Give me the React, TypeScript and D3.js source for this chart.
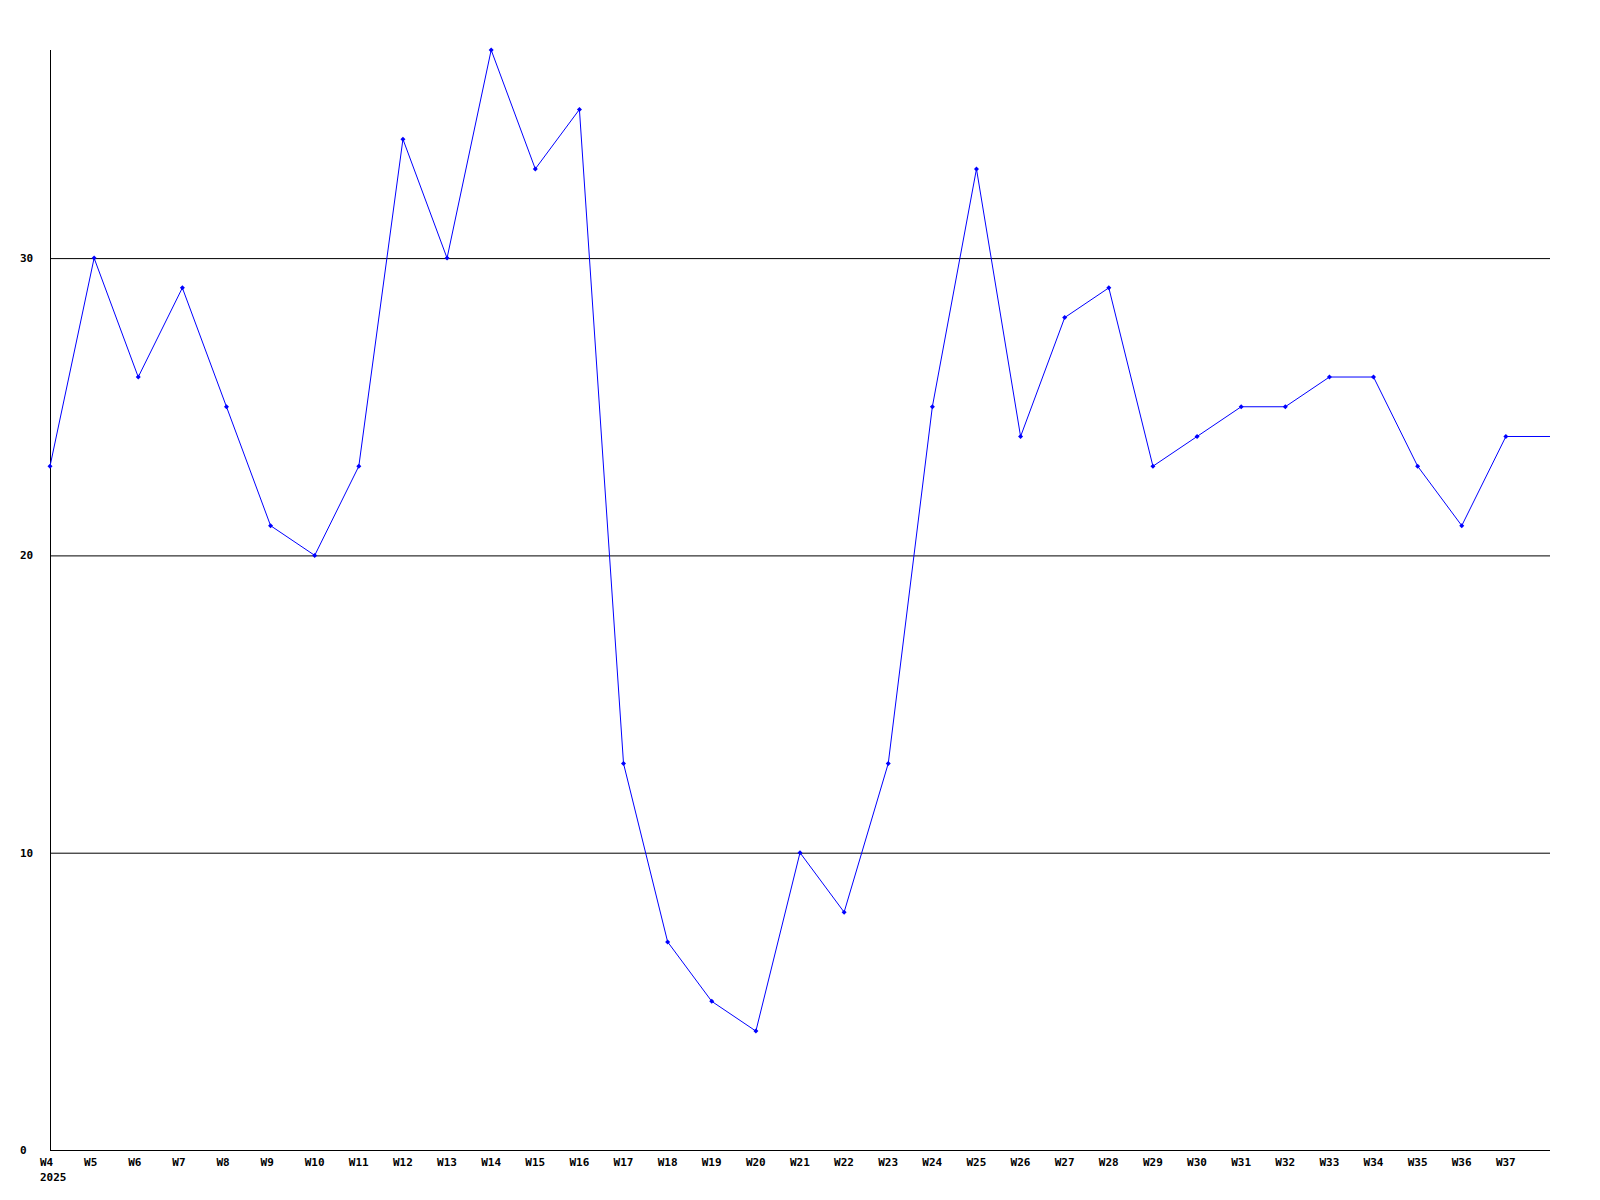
import { scaleLinear } from 'd3'

// weekly counts
let weeks = ['W4', 'W5', 'W6', 'W7', 'W8', 'W9', 'W10', 'W11', 'W12', 'W13', 'W14', 'W15', 'W16', 'W17', 'W18', 'W19', 'W20',
    'W21', 'W22', 'W23', 'W24', 'W25', 'W26', 'W27', 'W28', 'W29', 'W30', 'W31', 'W32', 'W33', 'W34', 'W35', 'W36', 'W37', 'W38']
let values = [23, 30, 26, 29, 25, 21, 20, 23, 34, 30, 37, 33, 35, 13, 7, 5, 4,
    10, 8, 13, 25, 33, 24, 28, 29, 23, 24, 25, 25, 26, 26, 23, 21, 24, 24]
let yTicks = [0, 10, 20, 30]
let yearLabel = '2025'

let App = () => {
    let width = 1600
    let height = 1200
    let margin = { top: 50, right: 50, bottom: 50, left: 50 }
    let innerWidth = width - margin.left - margin.right
    let innerHeight = height - margin.top - margin.bottom

    let xScale = scaleLinear().domain([0, weeks.length - 1]).range([0, innerWidth])
    let yScale = scaleLinear().domain([0, 37]).range([innerHeight, 0])

    let points = values.map((v, i) => [xScale(i), yScale(v)])
    let path = points.map((p, i) => (i ? 'L' : 'M') + p[0] + ',' + p[1]).join('')

    let font = { fontFamily: '"DejaVu Sans Mono", monospace', fontWeight: 'bold', fontSize: 11 }

    return (
        <svg width={width} height={height} style={{ position: 'absolute', left: 0, top: 0, background: 'white' }}>
            <g transform={`translate(${margin.left},${margin.top})`}>
                {yTicks.map(t => (
                    <g key={t} transform={`translate(0,${yScale(t)})`}>
                        {t > 0 && <line x1={0} x2={innerWidth} y1={0.5} y2={0.5} stroke='black' />}
                        <text x={-30} dy='.35em' style={font}>{t}</text>
                    </g>
                ))}
                <line x1={0.5} x2={0.5} y1={0} y2={innerHeight} stroke='black' />
                <line x1={0} x2={innerWidth} y1={innerHeight + 0.5} y2={innerHeight + 0.5} stroke='black' />

                {weeks.slice(0, weeks.length - 1).map((w, i) => (
                    <text key={w} x={xScale(i) - 10} y={innerHeight + 16} style={font}>{w}</text>
                ))}
                <text x={xScale(0) - 10} y={innerHeight + 31} style={font}>{yearLabel}</text>

                <path d={path} fill='none' stroke='#0000ff' strokeWidth={1} />
                {points.slice(0, points.length - 1).map((p, i) => (
                    <path key={i} d={`M${p[0]},${p[1] - 2.5}L${p[0] + 2.5},${p[1]}L${p[0]},${p[1] + 2.5}L${p[0] - 2.5},${p[1]}Z`} fill='#0000ff' />
                ))}
            </g>
        </svg>
    )
}

export default App
